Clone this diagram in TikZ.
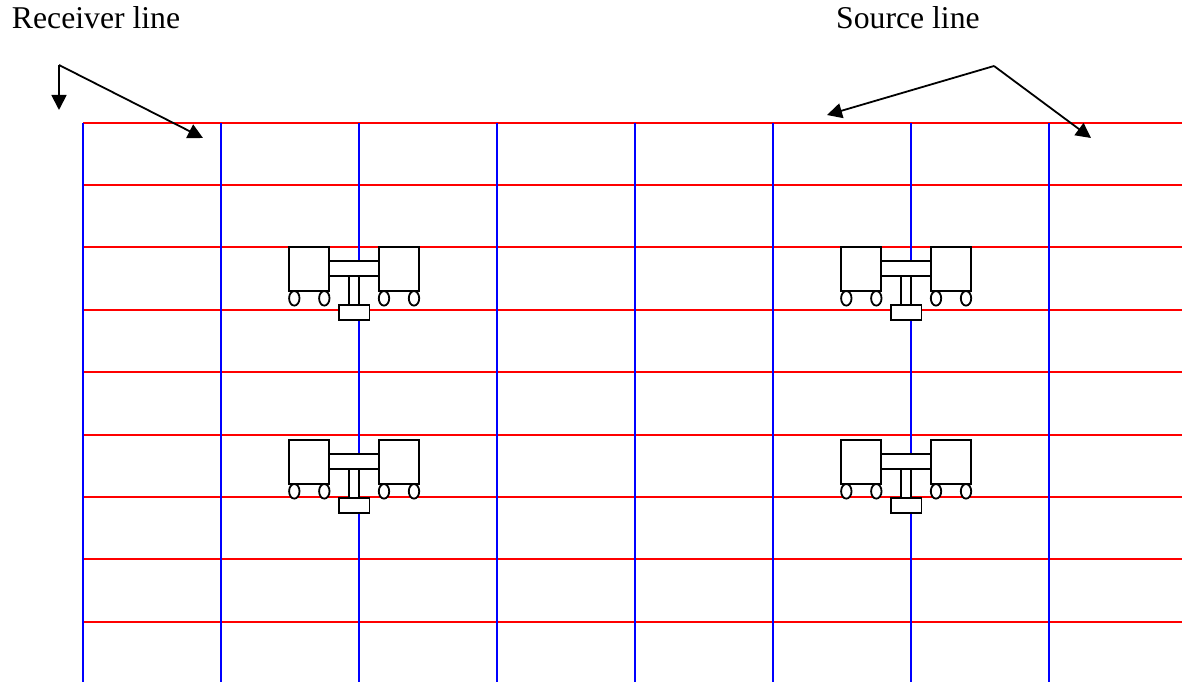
\documentclass[tikz,border=0pt]{standalone}
\usepackage{fontspec}
\setmainfont{Liberation Serif}
\usetikzlibrary{arrows.meta}
\tikzset{
  redline/.style={draw={rgb,255:red,255;green,0;blue,0},line width=2pt},
  blueline/.style={draw={rgb,255:red,0;green,0;blue,255},line width=2pt},
  part/.style={draw=black,fill=white,line width=1.8pt},
  wheel/.style={part},
  pointer/.style={draw=black,line width=1.8pt,-{Triangle[length=15pt,width=15pt]}},
  lbl/.style={font=\fontsize{31.7}{36}\selectfont,anchor=base west,inner sep=0pt,text=black}
}
\newcommand{\vehiclegroup}[2]{%
  \begin{scope}[shift={(#1,#2)}]
    \draw[part] (0,0) rectangle (40,44);
    \draw[part] (90,0) rectangle (130,44);
    \draw[part] (40,14) rectangle (90,29);
    \draw[part] (60,29) rectangle (70,58);
    \draw[part] (50,58) rectangle (80.5,73);
    \draw[wheel] (5.3,51.3) ellipse [x radius=5.2,y radius=7.3];
    \draw[wheel] (35.3,51.3) ellipse [x radius=5.2,y radius=7.3];
    \draw[wheel] (95,51.3) ellipse [x radius=5.2,y radius=7.3];
    \draw[wheel] (125,51.3) ellipse [x radius=5.2,y radius=7.3];
  \end{scope}}
\begin{document}
\begin{tikzpicture}[x=1pt,y=-1pt]
\useasboundingbox (0,0) rectangle (1182,682);
\foreach \yy in {123,185,247,310,372,435,497,559,622}
  \draw[redline] (83,\yy) -- (1182,\yy);
\foreach \xx in {83,221,359,497,635,773,911,1049}
  \draw[blueline] (\xx,123) -- (\xx,682);
\vehiclegroup{289}{247}
\vehiclegroup{841}{247}
\vehiclegroup{289}{440}
\vehiclegroup{841}{440}
\node[lbl] (recv) at (11.8,29) {Receiver line};
\node[lbl] (src) at (836,29) {Source line};
\coordinate (ra) at (59,65);
\coordinate (rd) at (59,110);
\coordinate (rt) at (203,138);
\coordinate (sa) at (994,66);
\coordinate (sl) at (827,115);
\coordinate (sr) at (1091,138);
\draw[pointer] (ra) -- (rd);
\draw[pointer] (ra) -- (rt);
\draw[pointer] (sa) -- (sl);
\draw[pointer] (sa) -- (sr);
\end{tikzpicture}
\end{document}
